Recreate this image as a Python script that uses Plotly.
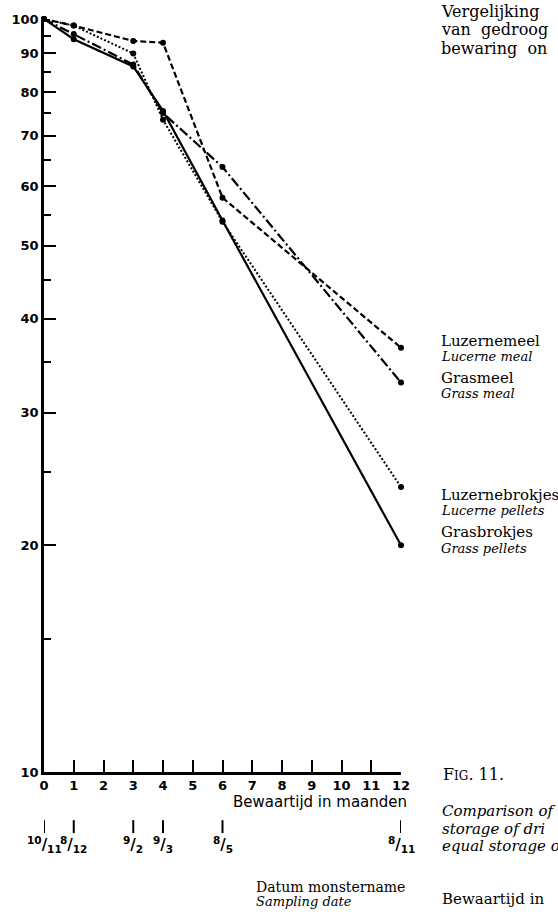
import plotly.graph_objects as go

# Storage time in months and the matching sampling dates (day / month)
months = [0, 1, 3, 4, 6, 12]
date_days = ["10", "8", "9", "9", "8", "8"]
date_months = ["11", "12", "2", "3", "5", "11"]

# Relative content (%) after storage, log scale
luzernemeel = [100, 98, 93.5, 93, 57.9, 36.6]
grasmeel = [100, 95.5, 87, 75, 63.6, 32.9]
luzernebrokjes = [100, 98, 90, 73.5, 53.8, 23.9]
grasbrokjes = [100, 94, 86.5, 75.5, 54, 20]

series_nl = ["Luzernemeel", "Grasmeel", "Luzernebrokjes", "Grasbrokjes"]
series_en = ["Lucerne meal", "Grass meal", "Lucerne pellets", "Grass pellets"]

y_major = [10, 20, 30, 40, 50, 60, 70, 80, 90, 100]
y_minor = [15, 25, 35, 45, 55, 65, 75, 85, 95]
x_ticks = list(range(0, 13))

W, H = 558, 920
L, R, T, B = 37, 157, 14, 147.5
PW, PH = W - L - R, H - T - B


def px_x(px):
    return (px - L) / PW


def px_y(py):
    return (H - B - py) / PH


SANS = "DejaVu Sans, Liberation Sans, sans-serif"
SERIF = "DejaVu Serif, Liberation Serif, serif"

fig = go.Figure()

styles = [
    dict(dash="6px,3px", width=2.2),
    dict(dash="10px,3px,2px,3px", width=2.2),
    dict(dash="2px,2px", width=2),
    dict(dash="solid", width=2.2),
]
for name, vals, st in zip(series_nl, [luzernemeel, grasmeel, luzernebrokjes, grasbrokjes], styles):
    fig.add_trace(go.Scatter(
        x=months, y=vals, name=name, mode="lines+markers",
        line=dict(color="black", width=st["width"], dash=st["dash"]),
        marker=dict(color="black", size=6),
        cliponaxis=False, showlegend=False,
    ))

fig.update_layout(
    width=W, height=H,
    margin=dict(l=L, r=R, t=T, b=B, pad=0),
    paper_bgcolor="white", plot_bgcolor="white",
    xaxis=dict(
        range=[0, 12], showline=True, linecolor="black", linewidth=2.5,
        ticks="inside", ticklen=12, tickwidth=2, tickcolor="black",
        tickvals=x_ticks, ticktext=[str(v) for v in x_ticks],
        tickfont=dict(family=SANS, size=13, color="black", weight="bold"),
        showgrid=False, zeroline=False,
    ),
    yaxis=dict(
        type="log", range=[1, 2], showline=True, linecolor="black", linewidth=2.5,
        ticks="inside", ticklen=12, tickwidth=2, tickcolor="black",
        tickvals=y_major, ticktext=[str(v) for v in y_major],
        tickfont=dict(family=SANS, size=13, color="black", weight="bold"),
        ticklabelstandoff=0,
        minor=dict(tickvals=y_minor, ticks="inside", ticklen=7, tickwidth=2, tickcolor="black"),
        showgrid=False, zeroline=False,
    ),
)

ann = []

# Axis title for storage time
ann.append(dict(text="Bewaartijd in maanden", xref="paper", yref="paper",
                x=px_x(409), y=px_y(803), xanchor="right", yanchor="middle",
                showarrow=False, font=dict(family=SANS, size=15, color="black")))

# Sampling-date scale below the month axis
for m, d, mo in zip(months, date_days, date_months):
    fig.add_shape(type="line", xref="x", yref="paper", x0=m, x1=m,
                  y0=px_y(821), y1=px_y(834), line=dict(color="black", width=2))
    ann.append(dict(text=f"<sup>{d}</sup>/<sub>{mo}</sub>", xref="x", yref="paper",
                    x=m, y=px_y(846), xanchor="center", yanchor="middle", showarrow=False,
                    font=dict(family=SANS, size=15, color="black", weight="bold")))

ann.append(dict(text="Datum monstername", xref="paper", yref="paper",
                x=px_x(251), y=px_y(888), xanchor="left", yanchor="middle",
                showarrow=False, font=dict(family=SERIF, size=14, color="black")))
ann.append(dict(text="<i>Sampling date</i>", xref="paper", yref="paper",
                x=px_x(251), y=px_y(903), xanchor="left", yanchor="middle",
                showarrow=False, font=dict(family=SERIF, size=13, color="black")))

# Series labels next to the line ends
label_y = [(338, 354), (376, 391), (493, 509), (531, 547)]
for nl, en, (y1, y2) in zip(series_nl, series_en, label_y):
    ann.append(dict(text=nl, xref="paper", yref="paper", x=px_x(440), y=px_y(y1),
                    xanchor="left", yanchor="middle", showarrow=False,
                    font=dict(family=SERIF, size=15, color="black")))
    ann.append(dict(text=f"<i>{en}</i>", xref="paper", yref="paper", x=px_x(440), y=px_y(y2),
                    xanchor="left", yanchor="middle", showarrow=False,
                    font=dict(family=SERIF, size=13, color="black")))

# Caption column
for txt, y in [("Vergelijking", 6), ("van\u00a0\u00a0gedroog", 25), ("bewaring\u00a0\u00a0on", 44)]:
    ann.append(dict(text=txt, xref="paper", yref="paper", x=px_x(440), y=px_y(y),
                    xanchor="left", yanchor="middle", showarrow=False,
                    font=dict(family=SERIF, size=16, color="black")))

ann.append(dict(text="F<span style='font-size:12px'>IG</span>. 11.", xref="paper", yref="paper",
                x=px_x(442), y=px_y(775), xanchor="left", yanchor="middle", showarrow=False,
                font=dict(family=SERIF, size=16, color="black")))
for txt, y in [("Comparison of", 812), ("storage of dri", 830), ("equal storage o", 847)]:
    ann.append(dict(text=f"<i>{txt}</i>", xref="paper", yref="paper", x=px_x(441), y=px_y(y),
                    xanchor="left", yanchor="middle", showarrow=False,
                    font=dict(family=SERIF, size=15, color="black")))
ann.append(dict(text="Bewaartijd in", xref="paper", yref="paper", x=px_x(441), y=px_y(900),
                xanchor="left", yanchor="middle", showarrow=False,
                font=dict(family=SERIF, size=15, color="black")))

fig.update_layout(annotations=ann)

fig.write_html("out.html")
